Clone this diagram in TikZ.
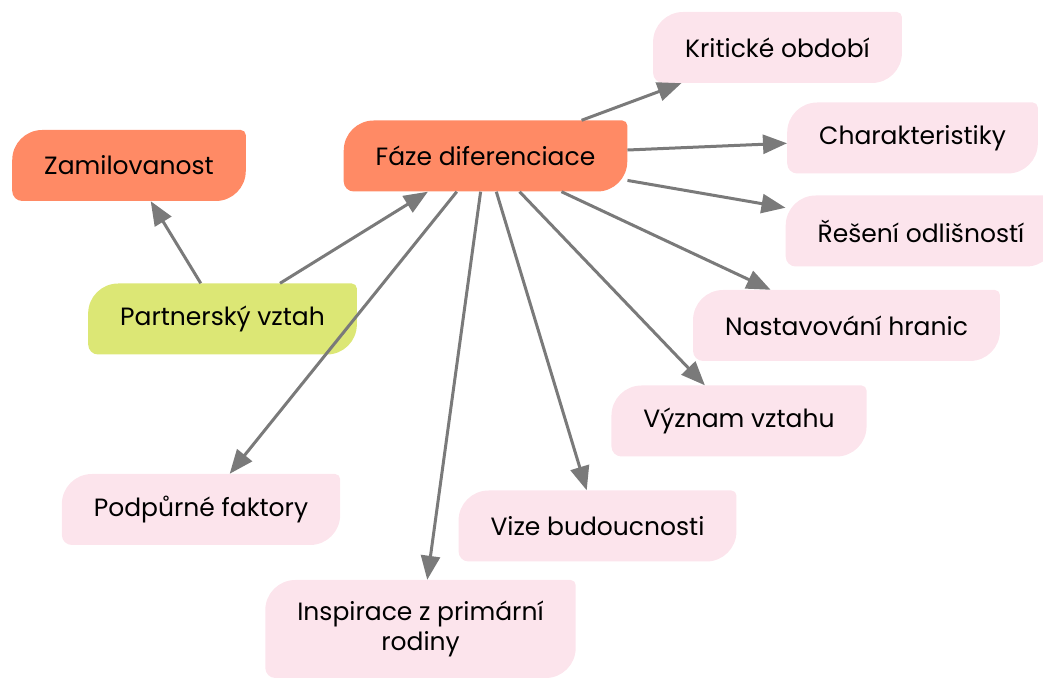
\documentclass[tikz,border=0pt]{standalone}
\usepackage{fontspec}
\setmainfont{Poppins}
\usetikzlibrary{positioning,arrows.meta,calc}
\definecolor{hubfill}{HTML}{FF8A65}
\definecolor{rootfill}{HTML}{DCE775}
\definecolor{leaffill}{HTML}{FCE4EC}
\definecolor{linkgray}{HTML}{7A7A7A}
\tikzset{%
topic/.style={rectangle,inner xsep=32pt,inner ysep=0pt,minimum height=71pt,
  align=center,font=\fontsize{25}{30}\selectfont,
  path picture={
    \fill[#1] let \p1=(path picture bounding box.south west),
                  \p2=(path picture bounding box.north east) in
      (\x1,\y1+10pt) -- (\x1,\y2-30pt) arc[start angle=180,end angle=90,radius=30pt]
      -- (\x2-5pt,\y2) arc[start angle=90,end angle=0,radius=5pt]
      -- (\x2,\y1+30pt) arc[start angle=0,end angle=-90,radius=30pt]
      -- (\x1+10pt,\y1) arc[start angle=270,end angle=180,radius=10pt] -- cycle;
  }},
hub/.style={topic=hubfill},
root/.style={topic=rootfill},
sub/.style={topic=leaffill},
link/.style={draw=linkgray,line width=3pt,-{Triangle[length=24pt,width=19pt]}}
}

\begin{document}
\begin{tikzpicture}[x=1pt,y=1pt]

    \useasboundingbox (0,0) rectangle (1043,677);
    \clip (0,0) rectangle (1043,677);

    \node[root] (partner)  at (222.5,358)   {Partnerský vztah};
    \node[hub]  (zamil)    at (129,511.5)   {Zamilovanost};
    \node[hub]  (faze)     at (485.5,521)   {Fáze diferenciace};

    \node[sub]  (kriticke) at (777.5,629.5) {Kritické období};
    \node[sub]  (charakt)  at (912.5,539)   {Charakteristiky};
    \node[sub]  (reseni)   at (921,446)     {Řešení odlišností};
    \node[sub]  (nastav)   at (846.5,351.5) {Nastavování hranic};
    \node[sub]  (vyznam)   at (739,256)     {Význam vztahu};
    \node[sub]  (vize)     at (597.5,151)   {Vize budoucnosti};
    \node[sub]  (podpora)  at (201,167.5)   {Podpůrné faktory};
    \node[sub,minimum height=98pt] (inspir) at (420.5,48) {Inspirace z primární\\rodiny};

    \draw[link] (partner) -- (zamil);
    \draw[link] (partner) -- (faze);
    \draw[link] (faze) -- (kriticke);
    \draw[link] (faze) -- (charakt);
    \draw[link] (faze) -- (reseni);
    \draw[link] (faze) -- (nastav);
    \draw[link] (faze) -- (vyznam);
    \draw[link] (faze) -- (vize);
    \draw[link] (faze) -- (inspir);
    \draw[link] (faze) -- (podpora);

\end{tikzpicture}
\end{document}
